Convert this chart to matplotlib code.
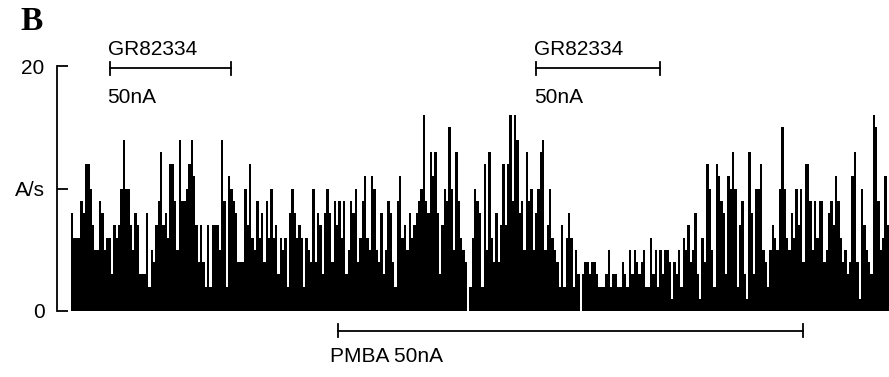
import matplotlib
matplotlib.use("Agg")
import matplotlib.pyplot as plt
import numpy as np

# firing rate (A/s) per bin left to right
rate_part1 = [8, 6, 6, 6, 9, 8, 12, 12, 10, 7, 5, 5, 9, 8, 5, 6, 6, 3, 7, 6,
              7, 10, 14, 10, 10, 7, 5, 8, 7, 3]
rate_part2 = [3, 3, 8, 2, 5, 4, 7, 9, 13, 7, 8, 6, 12, 12, 9, 5, 14, 9, 9, 10,
              12, 14, 11, 7, 4, 7, 4, 2, 7, 2, 7, 7]
rate_part3 = [7, 5, 14, 9, 2, 11, 10, 9, 8, 4, 4, 4, 10, 7, 12, 6, 5, 9, 6, 8,
              4, 9, 6, 10, 6, 7, 3, 6, 5, 6, 2, 8]
rate_part4 = [10, 8, 6, 7, 6, 2, 6, 5, 4, 10, 4, 8, 7, 3, 8, 10, 8, 4, 9, 7,
              9, 6, 9, 3, 5, 9, 8, 10, 4, 6, 9, 11]
rate_part5 = [6, 5, 11, 10, 5, 4, 8, 3, 5, 9, 8, 4, 2, 9, 11, 6, 7, 5, 8, 6,
              7, 8, 9, 10, 16, 9, 8, 13, 11, 13, 8, 3]
rate_part6 = [7, 10, 9, 15, 10, 5, 13, 9, 6, 5, 4, 0, 2, 6, 10, 9, 8, 2, 12, 5,
              13, 6, 4, 8, 4, 7, 12, 7, 12, 16, 9, 16]
rate_part7 = [14, 8, 9, 5, 13, 9, 10, 5, 8, 10, 13, 14, 5, 7, 10, 6, 5, 4, 2, 7,
              2, 6, 8, 6, 2, 5, 3, 0, 3, 4, 4, 3]
rate_part8 = [4, 4, 3, 2, 2, 2, 3, 5, 2, 3, 3, 2, 2, 4, 3, 2, 5, 3, 5, 4,
              3, 4, 5, 2, 2, 6, 3, 5, 2, 5, 3, 5]
rate_part9 = [5, 4, 1, 4, 3, 5, 2, 6, 5, 7, 4, 5, 8, 3, 1, 6, 4, 12, 10, 5,
              2, 12, 11, 9, 8, 3, 11, 10, 13, 10, 2, 7]
rate_part10 = [9, 3, 1, 13, 8, 3, 10, 10, 12, 5, 4, 2, 5, 7, 6, 5, 10, 15, 10, 6,
               5, 8, 6, 10, 7, 10, 4, 12, 12, 9, 5, 9]
rate_part11 = [6, 9, 9, 4, 5, 8, 9, 7, 11, 9, 6, 4, 5, 3, 4, 11, 13, 4, 1, 10,
               7, 5, 4, 3, 16, 15, 9, 5, 6, 11, 7]

rates = (rate_part1 + rate_part2 + rate_part3 + rate_part4 + rate_part5 + rate_part6
         + rate_part7 + rate_part8 + rate_part9 + rate_part10 + rate_part11)
bins = np.arange(len(rates))

# drug application periods, in bins
gr_periods = [(16.6, 68.3), (198.4, 251.3)]
gr_label = "GR82334"
gr_dose = "50nA"
pmba_period = (113.9, 312.3)
pmba_label = "PMBA 50nA"

ytick_values = [0, 10, 20]
ytick_labels = ["0", "A/s", "20"]

plt.rcParams["font.family"] = ["Liberation Sans", "DejaVu Sans"]
FS = 15

fig = plt.figure(figsize=(8.89, 3.77), dpi=100)
ax = fig.add_axes([57 / 889, 66 / 377, 832 / 889, 245 / 377])

ax.bar(bins, rates, width=1.0, align="edge", color="black", linewidth=0)

ax.set_xlim(-5.97, len(rates))
ax.set_ylim(0, 20)
for side in ("top", "right", "bottom"):
    ax.spines[side].set_visible(False)
ax.spines["left"].set_linewidth(1.3)
ax.set_xticks([])
ax.set_yticks(ytick_values)
ax.set_yticklabels(ytick_labels, fontsize=FS)
ax.tick_params(axis="y", direction="in", length=8, width=1.3, pad=9)


def bracket(x0, x1, y, cap):
    ax.plot([x0, x1], [y, y], color="black", lw=1.3, clip_on=False)
    for x in (x0, x1):
        ax.plot([x, x], [y - cap, y + cap], color="black", lw=1.3, clip_on=False)


for start, end in gr_periods:
    bracket(start, end, 19.8, 0.5)
    ax.text(start - 1, 20.6, gr_label, fontsize=FS, ha="left", va="bottom", clip_on=False)
    ax.text(start - 1, 17.4, gr_dose, fontsize=FS, ha="left", va="center", clip_on=False)

bracket(pmba_period[0], pmba_period[1], -1.6, 0.5)
ax.text(pmba_period[0] - 3.5, -3.75, pmba_label, fontsize=FS, ha="left", va="center", clip_on=False)

fig.text(20 / 889, 1 - 22 / 377, "B", fontsize=24, fontweight="bold",
         family=["Liberation Serif", "DejaVu Serif"], ha="left", va="center")

fig.savefig("out.png", dpi=100)
